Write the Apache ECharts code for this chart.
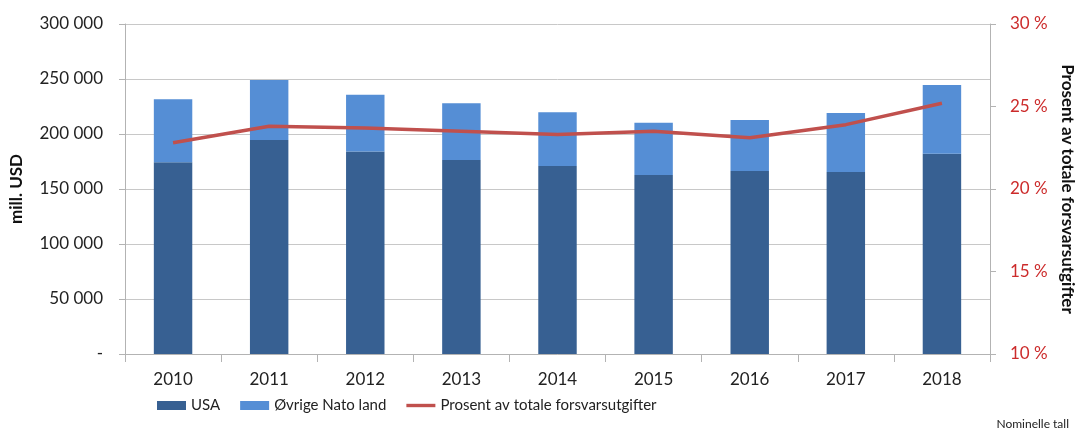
<!DOCTYPE html>
<html>
<head>
<meta charset="utf-8">
<script src="https://cdn.jsdelivr.net/npm/echarts@6/dist/echarts.min.js"></script>
<style>
  html, body { margin: 0; padding: 0; background: #fff; }
  #chart { width: 1075px; height: 436px; }
</style>
</head>
<body>
<div id="chart"></div>
<script>
// data (mill. USD and %)
var years = ['2010', '2011', '2012', '2013', '2014', '2015', '2016', '2017', '2018'];
var usa = [174300, 194500, 184000, 176400, 171000, 162700, 166400, 165500, 182000];
var ovrige = [57200, 54500, 51700, 51600, 48700, 47600, 46300, 53500, 62500];
var prosent = [22.8, 23.8, 23.7, 23.5, 23.3, 23.5, 23.1, 23.9, 25.2];

var font = 'Lato, "Open Sans", sans-serif';
var grey = '#b3b3b3';

function fmtTusen(v) {
  if (v === 0) return '-';
  return String(v).replace(/\B(?=(\d{3})+(?!\d))/g, ' ');
}

var chart = echarts.init(document.getElementById('chart'));
chart.setOption({
  animation: false,
  textStyle: { fontFamily: font },
  grid: { left: 125, right: 85, top: 24, bottom: 82, outerBoundsMode: 'none', containLabel: false },
  legend: {
    bottom: 18,
    left: 152,
    itemGap: 20,
    itemWidth: 29,
    itemHeight: 9,
    textStyle: { fontSize: 15, color: '#222', fontFamily: font },
    data: [
      { name: 'USA', icon: 'rect' },
      { name: 'Øvrige Nato land', icon: 'rect' },
      { name: 'Prosent av totale forsvarsutgifter', icon: 'path://M0 0H30V3.5H0Z' }
    ]
  },
  graphic: [{
    type: 'text',
    right: 6,
    bottom: 6,
    style: { text: 'Nominelle tall', font: '12px ' + font, fill: '#222' }
  }],
  xAxis: {
    type: 'category',
    data: years,
    axisLine: { lineStyle: { color: grey } },
    axisTick: { show: true, length: 8, lineStyle: { color: grey } },
    axisLabel: { fontSize: 17, color: '#222', margin: 17 }
  },
  yAxis: [
    {
      type: 'value',
      min: 0,
      max: 300000,
      interval: 50000,
      name: 'mill. USD',
      nameLocation: 'middle',
      nameGap: 100,
      nameTextStyle: { fontSize: 17, fontWeight: 'bold', color: '#111' },
      axisLine: { show: true, lineStyle: { color: grey } },
      axisTick: { show: true, length: 6, lineStyle: { color: grey } },
      splitLine: { lineStyle: { color: '#c8c8c8' } },
      axisLabel: { fontSize: 17, color: '#222', margin: 22, formatter: fmtTusen }
    },
    {
      type: 'value',
      position: 'right',
      min: 10,
      max: 30,
      interval: 5,
      name: 'Prosent av totale forsvarsutgifter',
      nameLocation: 'middle',
      nameRotate: -90,
      nameGap: 68,
      nameTextStyle: { fontSize: 17, fontWeight: 'bold', color: '#111' },
      axisLine: { show: true, lineStyle: { color: grey } },
      axisTick: { show: true, length: 6, lineStyle: { color: grey } },
      splitLine: { show: false },
      axisLabel: { fontSize: 17, color: '#cc2b2b', margin: 20, formatter: '{value} %' }
    }
  ],
  series: [
    {
      name: 'USA',
      type: 'bar',
      stack: 'total',
      barWidth: '40%',
      itemStyle: { color: '#376092' },
      data: usa
    },
    {
      name: 'Øvrige Nato land',
      type: 'bar',
      stack: 'total',
      barWidth: '40%',
      itemStyle: { color: '#558ed5' },
      data: ovrige
    },
    {
      name: 'Prosent av totale forsvarsutgifter',
      type: 'line',
      yAxisIndex: 1,
      symbol: 'none',
      lineStyle: { color: '#c0504d', width: 3.5 },
      itemStyle: { color: '#c0504d' },
      data: prosent
    }
  ]
});
</script>
</body>
</html>
